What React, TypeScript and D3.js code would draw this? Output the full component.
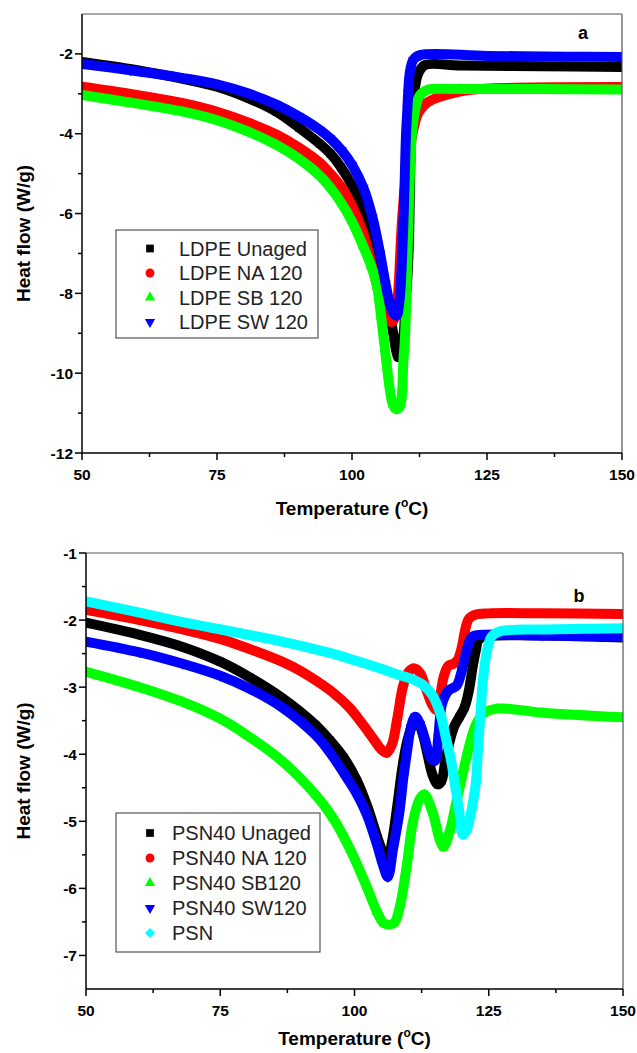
import { useEffect, useRef } from "react";
import * as d3 from "d3";

type Pt = [number, number];

// temperature (°C), heat flow (W/g)
const tempTicks = [50, 75, 100, 125, 150];
const tempMinor = [62.5, 87.5, 112.5, 137.5];
const flowTicksA = [-2, -4, -6, -8, -10, -12];
const flowMinorA = [-3, -5, -7, -9, -11];
const flowTicksB = [-1, -2, -3, -4, -5, -6, -7];
const flowMinorB = [-1.5, -2.5, -3.5, -4.5, -5.5, -6.5];

const ldpeUnaged: Pt[] = [
  [50, -2.2], [60, -2.4], [68.5, -2.62], [75, -2.82], [81, -3.12], [86, -3.45], [90.2, -3.85],
  [94, -4.25], [96, -4.5], [98, -4.85], [100, -5.3], [102.1, -6.0], [104, -6.8], [105.5, -7.6], [106.7, -8.35],
  [107.6, -8.97], [108.2, -9.45], [108.6, -9.6], [109.1, -9.45], [109.6, -8.97], [109.8, -8.57],
  [110, -8.1], [110.3, -7.5], [110.55, -6.65], [110.7, -5.6], [110.8, -4.82], [111.05, -3.82],
  [111.7, -2.82], [112.3, -2.48], [113.5, -2.28], [120, -2.29], [135, -2.31], [150, -2.33],
];
const ldpeNA: Pt[] = [
  [50, -2.82], [59, -3.0], [68.5, -3.23], [75, -3.45], [81, -3.73], [86, -4.02], [90.2, -4.35],
  [94, -4.72], [96, -5.0], [98.1, -5.35], [100, -5.8], [102.1, -6.5], [103.7, -7.3], [105.2, -8.1],
  [106.3, -8.55], [107.3, -8.72], [108, -8.6], [108.4, -8.2], [108.6, -7.9], [108.8, -7.4], [109, -6.8],
  [109.2, -6.3], [109.5, -5.75], [109.8, -5.32], [110.4, -4.98], [110.7, -4.48], [111.35, -3.9],
  [112.3, -3.48], [113.8, -3.23], [115.7, -3.1], [118.1, -3.0], [122, -2.9], [130, -2.85], [150, -2.83],
];
const ldpeSB: Pt[] = [
  [50, -3.03], [59, -3.22], [68.5, -3.44], [75, -3.66], [81, -3.96], [86, -4.28], [90.2, -4.63],
  [94, -5.05], [96, -5.35], [98.1, -5.75], [100, -6.2], [102, -6.8], [103.5, -7.3], [104.6, -7.8],
  [105.4, -8.6], [106.1, -9.4], [107, -10.4], [107.6, -10.8], [108.2, -10.9], [108.8, -10.85],
  [109.2, -10.6], [109.5, -9.73], [109.8, -9.15], [110, -8.35], [110.25, -7.15], [110.5, -6.0],
  [110.7, -5.07], [110.9, -4.48], [111.05, -4.07], [111.5, -3.57], [112.5, -3.05], [114, -2.9],
  [120, -2.88], [135, -2.88], [150, -2.89],
];
const ldpeSW: Pt[] = [
  [50, -2.25], [59, -2.41], [68.5, -2.6], [75, -2.76], [81, -3.0], [86, -3.27], [90.2, -3.57],
  [94, -3.9], [96, -4.12], [98.1, -4.42], [100, -4.78], [102.1, -5.35], [103.8, -6.1], [105.2, -7.0],
  [106.2, -7.75], [107, -8.25], [107.7, -8.5], [108.3, -8.55], [108.7, -8.3], [109, -7.85], [109.4, -6.65],
  [109.6, -5.9], [109.8, -4.95], [110, -4.03], [110.25, -3.4], [110.4, -2.98], [110.7, -2.48],
  [111.35, -2.15], [112.6, -2.03], [125, -2.05], [140, -2.07], [150, -2.08],
];

const psnUnaged: Pt[] = [
  [50, -2.04], [60, -2.22], [68, -2.4], [75, -2.62], [80.4, -2.85], [86.5, -3.16], [92.7, -3.56],
  [95.4, -3.79], [98, -4.05], [100.5, -4.4], [102.5, -4.8], [104.3, -5.25], [105.5, -5.5], [106.2, -5.57],
  [107, -5.3], [108, -4.75], [109, -4.15], [110, -3.75], [111, -3.55], [111.8, -3.52], [112.7, -3.7],
  [113.6, -4.0], [114.5, -4.3], [115.5, -4.45], [116.2, -4.4], [116.9, -4.1], [117.6, -3.85],
  [118.5, -3.6], [119.5, -3.45], [120.5, -3.3], [121.3, -3.05], [122, -2.7], [122.6, -2.45],
  [123.2, -2.28], [125, -2.24], [150, -2.26],
];
const psnNA: Pt[] = [
  [50, -1.85], [60, -2.0], [68, -2.14], [75, -2.28], [80.4, -2.43], [86.5, -2.62], [90, -2.76],
  [93, -2.91], [96, -3.08], [99, -3.3], [101.5, -3.55], [103.5, -3.77], [105, -3.93], [106, -3.98],
  [107, -3.85], [108, -3.45],
  [109, -3.0], [110, -2.78], [111.2, -2.72], [112.3, -2.8], [113.3, -3.02], [114.4, -3.25], [115.3, -3.34],
  [116, -3.1], [116.7, -2.82], [117.5, -2.68], [118.5, -2.65], [119.3, -2.58], [120, -2.4],
  [120.6, -2.15], [121.3, -1.98], [122.5, -1.92], [125, -1.9], [135, -1.9], [150, -1.91],
];
const psnSB: Pt[] = [
  [50, -2.77], [60, -3.0], [68, -3.22], [75, -3.47], [80.4, -3.74], [86.5, -4.1], [92.7, -4.6],
  [96, -4.95], [99.2, -5.42], [102.3, -5.98], [104.2, -6.35], [105.5, -6.52], [107.3, -6.52],
  [108.5, -6.25], [109.8, -5.62], [110.9, -5.0], [112.2, -4.66], [113, -4.6], [114.6, -4.88],
  [115.9, -5.28], [116.6, -5.38], [117.8, -5.13], [119, -4.7], [120.4, -4.2], [121.3, -3.9],
  [122.4, -3.6], [123.9, -3.4], [126.5, -3.32], [135, -3.38], [150, -3.45],
];
const psnSW: Pt[] = [
  [50, -2.32], [60, -2.48], [68, -2.65], [75, -2.83], [80.4, -3.02], [86.5, -3.3], [92.7, -3.71],
  [95.4, -3.97], [98, -4.28], [100.5, -4.6], [102.3, -4.9], [104.2, -5.35], [105.3, -5.65], [106.2, -5.83],
  [107.2, -5.4], [108.3, -4.9], [109.1, -4.35], [109.8, -3.95], [110.5, -3.6], [111.3, -3.44],
  [112.2, -3.55], [113.2, -3.8], [114.2, -4.05], [115, -4.1], [115.6, -3.75], [116.3, -3.25],
  [117.5, -3.05], [119, -2.98], [120, -2.75], [120.9, -2.45], [121.9, -2.25], [124, -2.22],
  [135, -2.23], [150, -2.25],
];
const psnPure: Pt[] = [
  [50, -1.72], [60, -1.89], [68, -2.03], [77, -2.17], [86.5, -2.32], [95.4, -2.49], [100, -2.6],
  [104.7, -2.72], [108, -2.81], [111, -2.89], [113, -2.98], [114.5, -3.12], [116, -3.4], [117, -3.75],
  [118, -4.1], [118.8, -4.5], [119.5, -4.85], [120.2, -5.2], [120.8, -5.15], [121.5, -4.95],
  [122.2, -4.65], [122.7, -4.35], [122.9, -4.05], [123.2, -3.7], [123.5, -3.35], [123.8, -3.0],
  [124.2, -2.7], [124.7, -2.45], [125.5, -2.25], [127, -2.17], [135, -2.14], [150, -2.12],
];

const namesA = ["LDPE Unaged", "LDPE NA 120", "LDPE SB 120", "LDPE SW 120"];
const namesB = ["PSN40 Unaged", "PSN40 NA 120", "PSN40 SB120", "PSN40 SW120", "PSN"];
const colors = ["#000000", "#ff0000", "#00ff00", "#0000ff", "#00ffff"];
const shapes = ["square", "circle", "up", "down", "diamond"];

const FONT = "'Liberation Sans', Arial, sans-serif";

function markerPath(kind: string) {
  if (kind === "circle") return d3.symbol(d3.symbolCircle, 62)() as string;
  if (kind === "up" || kind === "down") return d3.symbol(d3.symbolTriangle, 46)() as string;
  if (kind === "diamond") return d3.symbol(d3.symbolSquare, 50)() as string;
  return d3.symbol(d3.symbolSquare, 60)() as string;
}
function markerRot(kind: string) {
  if (kind === "down") return " rotate(180)";
  if (kind === "diamond") return " rotate(45)";
  return "";
}

function drawPanel(svg: any, cfg: any) {
  const { left, right, top, bottom, yDomain, yTicks, yMinor, series, names, legend, letter, id } = cfg;
  const x = d3.scaleLinear().domain([50, 150]).range([left, right]);
  const y = d3.scaleLinear().domain(yDomain).range([bottom, top]);
  const g = svg.append("g");

  g.append("clipPath").attr("id", id).append("rect")
    .attr("x", left).attr("y", top).attr("width", right - left).attr("height", bottom - top);

  const plot = g.append("g").attr("clip-path", `url(#${id})`);
  const line = d3.line<Pt>().x(d => x(d[0])).y(d => y(d[1])).curve(d3.curveCatmullRom.alpha(0.5));

  series.forEach((s: Pt[], i: number) => {
    plot.append("path").attr("d", line(s)).attr("fill", "none")
      .attr("stroke", colors[i]).attr("stroke-width", 10).attr("stroke-linecap", "round")
      .attr("stroke-linejoin", "round");
    plot.selectAll(null).data(s).enter().append("path")
      .attr("d", markerPath(shapes[i]))
      .attr("transform", (d: Pt) => `translate(${x(d[0])},${y(d[1])})` + markerRot(shapes[i]))
      .attr("fill", colors[i]);
  });

  // frame
  g.append("line").attr("x1", left).attr("x2", right).attr("y1", top).attr("y2", top)
    .attr("stroke", "#555").attr("stroke-width", 1.2);
  g.append("line").attr("x1", right).attr("x2", right).attr("y1", top).attr("y2", bottom)
    .attr("stroke", "#555").attr("stroke-width", 1.2);
  g.append("line").attr("x1", left).attr("x2", right).attr("y1", bottom).attr("y2", bottom)
    .attr("stroke", "#000").attr("stroke-width", 1.5);
  g.append("line").attr("x1", left).attr("x2", left).attr("y1", top).attr("y2", bottom)
    .attr("stroke", "#000").attr("stroke-width", 1.5);

  // x ticks
  tempTicks.forEach(t => {
    g.append("line").attr("x1", x(t)).attr("x2", x(t)).attr("y1", bottom).attr("y2", bottom + 7)
      .attr("stroke", "#000").attr("stroke-width", 1.5);
    g.append("text").attr("x", x(t)).attr("y", bottom + 27).attr("text-anchor", "middle")
      .attr("font-family", FONT).attr("font-weight", "bold").attr("font-size", 15.5).text(t);
  });
  tempMinor.forEach(t => {
    g.append("line").attr("x1", x(t)).attr("x2", x(t)).attr("y1", bottom).attr("y2", bottom + 4)
      .attr("stroke", "#000").attr("stroke-width", 1.5);
  });
  // y ticks
  yTicks.forEach((t: number) => {
    g.append("line").attr("x1", left - 7).attr("x2", left).attr("y1", y(t)).attr("y2", y(t))
      .attr("stroke", "#000").attr("stroke-width", 1.5);
    g.append("text").attr("x", left - 9).attr("y", y(t)).attr("dy", "0.36em").attr("text-anchor", "end")
      .attr("font-family", FONT).attr("font-weight", "bold").attr("font-size", 15.5).text(t);
  });
  yMinor.forEach((t: number) => {
    g.append("line").attr("x1", left - 4).attr("x2", left).attr("y1", y(t)).attr("y2", y(t))
      .attr("stroke", "#000").attr("stroke-width", 1.5);
  });

  // axis titles
  const xt = g.append("text").attr("x", (left + right) / 2).attr("y", bottom + cfg.xTitleGap)
    .attr("text-anchor", "middle").attr("font-family", FONT).attr("font-weight", "bold")
    .attr("font-size", 19);
  xt.append("tspan").text("Temperature (");
  xt.append("tspan").attr("font-size", 12).attr("dy", -8).text("o");
  xt.append("tspan").attr("dy", 8).text("C)");

  g.append("text").attr("transform", `translate(23,${(top + bottom) / 2}) rotate(-90)`)
    .attr("text-anchor", "middle").attr("dy", "0.36em").attr("font-family", FONT)
    .attr("font-weight", "bold").attr("font-size", 19).text("Heat flow (W/g)");

  g.append("text").attr("x", letter[0]).attr("y", letter[1]).attr("text-anchor", "middle")
    .attr("font-family", FONT).attr("font-weight", "bold").attr("font-size", 18).text(cfg.letterText);

  // legend
  g.append("rect").attr("x", legend.x).attr("y", legend.y).attr("width", legend.w).attr("height", legend.h)
    .attr("fill", "#fff").attr("stroke", "#555").attr("stroke-width", 1.2);
  names.forEach((n: string, i: number) => {
    const cy = legend.row0 + i * legend.step;
    g.append("path").attr("d", markerPath(shapes[i]))
      .attr("transform", `translate(${legend.sx},${cy})` + markerRot(shapes[i]))
      .attr("fill", colors[i]);
    g.append("text").attr("x", legend.tx).attr("y", cy).attr("dy", "0.36em")
      .attr("font-family", FONT).attr("font-size", 20).attr("fill", "#222").text(n);
  });
}

export default function App() {
  const ref = useRef<SVGSVGElement | null>(null);
  useEffect(() => {
    const svg = d3.select(ref.current);
    svg.selectAll("*").remove();
    drawPanel(svg, {
      id: "clipA", left: 82, right: 622, top: 14, bottom: 453,
      yDomain: [-12, -1], yTicks: flowTicksA, yMinor: flowMinorA,
      series: [ldpeUnaged, ldpeNA, ldpeSB, ldpeSW], names: namesA,
      legend: { x: 116, y: 230, w: 202, h: 108, row0: 248.5, step: 24.5, sx: 150, tx: 179 },
      letter: [583, 39], letterText: "a", xTitleGap: 62,
    });
    drawPanel(svg, {
      id: "clipB", left: 86, right: 623, top: 553, bottom: 989,
      yDomain: [-7.5, -1], yTicks: flowTicksB, yMinor: flowMinorB,
      series: [psnUnaged, psnNA, psnSB, psnSW, psnPure], names: namesB,
      legend: { x: 116, y: 813, w: 204, h: 139, row0: 833, step: 25, sx: 150, tx: 172 },
      letter: [579, 602], letterText: "b", xTitleGap: 56,
    });
  }, []);
  return (
    <svg ref={ref} width={637} height={1053}
      style={{ position: "absolute", left: 0, top: 0, background: "#fff" }} />
  );
}
